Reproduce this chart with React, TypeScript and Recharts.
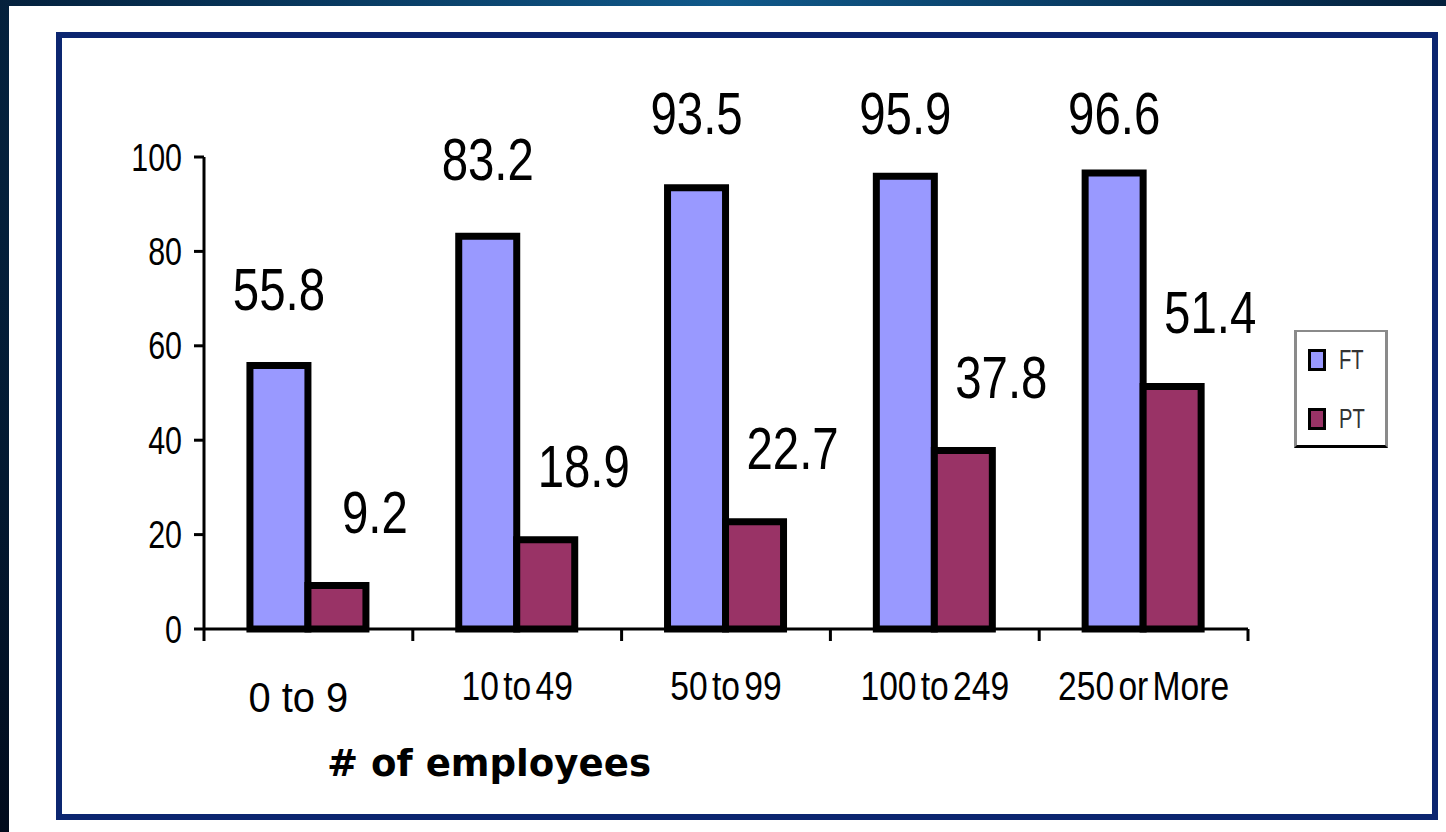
import React from 'react';
import { BarChart, Bar, XAxis, YAxis, Legend, LabelList, Label } from 'recharts';

const categories = ['0 to 9', '10 to 49', '50 to 99', '100 to 249', '250 or More'];
const ftValues = [55.8, 83.2, 93.5, 95.9, 96.6];
const ptValues = [9.2, 18.9, 22.7, 37.8, 51.4];
const yTicks = [0, 20, 40, 60, 80, 100];
const xAxisTitle = '# of employees';

const data = categories.map((c, i) => ({ name: c, FT: ftValues[i], PT: ptValues[i] }));

const FONT = '"Liberation Sans", Arial, Helvetica, sans-serif';
const FT_COLOR = '#9999FF';
const PT_COLOR = '#993366';

const YTick = (props: any) => {
  const { x, y, payload } = props;
  return (
    <text
      transform={`translate(${x} ${y}) scale(0.8 1)`}
      textAnchor="end"
      dy="0.36em"
      fontFamily={FONT}
      fontSize={38}
      fill="#000"
    >
      {payload.value}
    </text>
  );
};

const XTick = (props: any) => {
  const { x, y, payload, index, width, visibleTicksCount } = props;
  const n = visibleTicksCount || categories.length;
  const band = (typeof width === 'number' && width > 0 ? width : 1044) / n;
  const first = index === 0;
  const left = x - band / 2;
  const right = x + band / 2;
  return (
    <g>
      <line x1={left} x2={left} y1={y} y2={y + 12} stroke="#000" strokeWidth={3} />
      {index === n - 1 && <line x1={right} x2={right} y1={y} y2={y + 12} stroke="#000" strokeWidth={3} />}
      <text
        transform={`translate(${x + (first ? -10 : 0)} ${y + (first ? 83 : 71)}) scale(${first ? 0.95 : 0.84} 1)`}
        textAnchor="middle"
        fontFamily={FONT}
        fontSize={first ? 42 : 40}
        style={{ wordSpacing: first ? 0 : -6 }}
        fill="#000"
      >
        {payload.value}
      </text>
    </g>
  );
};

const makeValueLabel = (dx: number, gap: number) => (props: any) => {
  const { x, y, width, value } = props;
  const cx = Number(x) + Number(width) / 2 + dx;
  const by = Math.max(Number(y) - gap, 134);
  return (
    <text
      transform={`translate(${cx} ${by}) scale(0.79 1)`}
      textAnchor="middle"
      fontFamily={FONT}
      fontSize={60}
      fill="#000"
    >
      {value}
    </text>
  );
};

const LegendBox = (props: any) => {
  const items = props.payload || [];
  return (
    <div
      style={{
        width: 94,
        height: 118,
        boxSizing: 'border-box',
        borderLeft: '3px solid #8a8a8a',
        borderTop: '2px solid #8a8a8a',
        borderRight: '3px solid #8a8a8a',
        borderBottom: '3px solid #000',
        background: '#fff',
        position: 'relative',
      }}
    >
      {items.map((it: any, i: number) => (
        <div
          key={String(it.value)}
          style={{ position: 'absolute', left: 11, top: 16 + i * 59, display: 'flex', alignItems: 'center' }}
        >
          <div style={{ width: 12, height: 16, background: it.color, border: '3px solid #000' }} />
          <span
            style={{
              marginLeft: 13,
              fontFamily: FONT,
              fontSize: 28,
              lineHeight: '24px',
              color: '#333',
              display: 'inline-block',
              transform: 'scaleX(0.72)',
              transformOrigin: 'left center',
            }}
          >
            {it.value}
          </span>
        </div>
      ))}
    </div>
  );
};

const AxisTitle = (props: any) => {
  const vb = props.viewBox || { x: 204, y: 629 };
  return (
    <text
      x={vb.x + 123}
      y={vb.y + 147}
      fontFamily='"DejaVu Sans", Verdana, sans-serif'
      fontWeight="bold"
      fontSize={38}
      fill="#000"
      textLength={324}
      lengthAdjust="spacingAndGlyphs"
    >
      {xAxisTitle}
    </text>
  );
};

export default function App() {
  return (
    <div
      style={{
        position: 'fixed',
        left: 0,
        top: 0,
        width: 1446,
        height: 832,
        overflow: 'hidden',
        background: 'radial-gradient(ellipse at 50% 0%, #10598a 0%, #073459 45%, #010b1c 100%)',
      }}
    >
      <div style={{ position: 'absolute', left: 9, top: 6, right: 0, bottom: 0, background: '#fff' }} />
      <div
        style={{
          position: 'absolute',
          left: 56,
          top: 32,
          width: 1382,
          height: 788,
          boxSizing: 'border-box',
          border: '6px solid #0c2670',
        }}
      />
      <div style={{ position: 'absolute', left: 0, top: 0 }}>
        <BarChart
          width={1446}
          height={832}
          data={data}
          margin={{ top: 157, right: 198, bottom: 0, left: 0 }}
          barCategoryGap="22%"
          barGap={0}
        >
          <YAxis
            width={204}
            domain={[0, 100]}
            ticks={yTicks}
            interval={0}
            tickSize={10}
            tickMargin={12}
            axisLine={{ stroke: '#000', strokeWidth: 3 }}
            tickLine={{ stroke: '#000', strokeWidth: 3 }}
            tick={<YTick />}
          />
          <XAxis
            dataKey="name"
            height={203}
            interval={0}
            tickLine={false}
            tickSize={0}
            tickMargin={0}
            axisLine={{ stroke: '#000', strokeWidth: 3 }}
            tick={<XTick />}
          >
            <Label content={<AxisTitle />} />
          </XAxis>
          <Legend
            layout="vertical"
            align="center"
            verticalAlign="middle"
            width={94}
            height={118}
            wrapperStyle={{ left: 1294, top: 330, width: 94, height: 118 }}
            content={<LegendBox />}
          />
          <Bar dataKey="FT" name="FT" fill={FT_COLOR} stroke="#000" strokeWidth={7} isAnimationActive={false} legendType="square">
            <LabelList dataKey="FT" content={makeValueLabel(0, 56)} />
          </Bar>
          <Bar dataKey="PT" name="PT" fill={PT_COLOR} stroke="#000" strokeWidth={7} isAnimationActive={false} legendType="square">
            <LabelList dataKey="PT" content={makeValueLabel(38, 53)} />
          </Bar>
        </BarChart>
      </div>
    </div>
  );
}
